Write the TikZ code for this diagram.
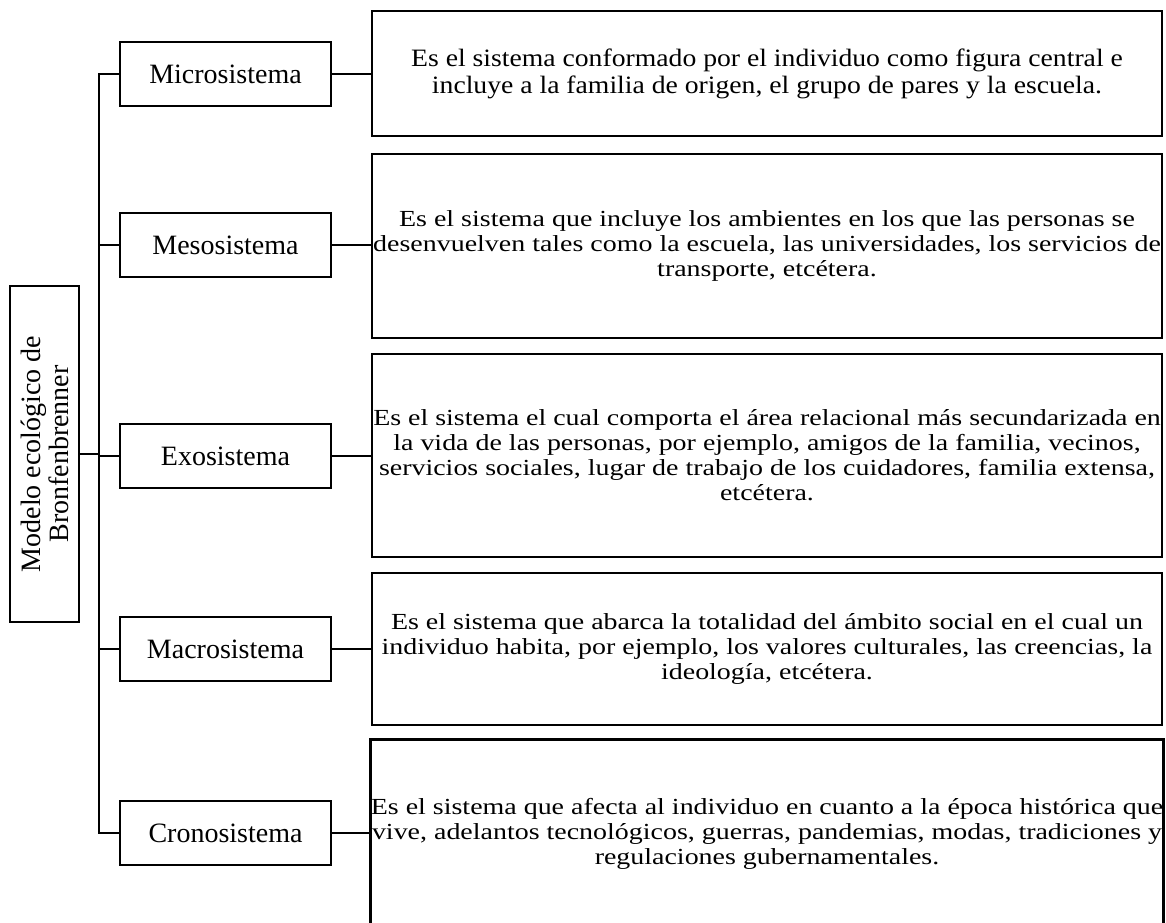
\documentclass[tikz,border=0pt]{standalone}
\usepackage{fontspec}
\setmainfont{Liberation Serif}
\newfontfamily\descfont[FakeStretch=1.215]{Liberation Serif}
\newfontfamily\descfontA[FakeStretch=1.107]{Liberation Serif}
\usepackage{tikz}
\usetikzlibrary{positioning,calc}

\begin{document}
\begin{tikzpicture}[x=0.5pt,y=-0.5pt]
\tikzstyle{S}=[draw,line width=1.4pt,inner sep=0pt,align=center]
\tikzstyle{M}=[S,minimum width=105.5pt,minimum height=32pt,font=\fontsize{14}{16}\selectfont]
\tikzstyle{D}=[S,minimum width=395pt,font=\descfont\fontsize{11.5}{12.5}\selectfont]
\tikzstyle{L}=[line width=0.9pt]
\useasboundingbox (0,0) rectangle (1166,922);
\clip (0,0) rectangle (1166,922);
% left title box
\node[S,rotate=90,minimum width=168pt,minimum height=34.5pt,
font=\fontsize{14}{14}\selectfont](model) at (44.5,454)
{Modelo ecológico de\\Bronfenbrenner};
% systems
\node[M](micro) at (225.5,74){Microsistema};
\node[M](meso) at (225.5,245){Mesosistema};
\node[M](exo) at (225.5,456){Exosistema};
\node[M](macro) at (225.5,649){Macrosistema};
\node[M](crono) at (225.5,833){Cronosistema};
% descriptions
\node[D,minimum height=62.5pt,font=\descfontA\fontsize{12.5}{13.5}\selectfont](d1) at (767,73.5)
{Es el sistema conformado por el individuo como figura central e\\
incluye a la familia de origen, el grupo de pares y la escuela.};
\node[D,minimum height=92pt](d2) at (767,246)
{Es el sistema que incluye los ambientes en los que las personas se\\
desenvuelven tales como la escuela, las universidades, los servicios de\\
transporte, etcétera.};
\node[D,minimum height=101.5pt](d3) at (767,455.5)
{Es el sistema el cual comporta el área relacional más secundarizada en\\
la vida de las personas, por ejemplo, amigos de la familia, vecinos,\\
servicios sociales, lugar de trabajo de los cuidadores, familia extensa,\\
etcétera.};
\node[D,minimum height=76pt](d4) at (767,649)
{Es el sistema que abarca la totalidad del ámbito social en el cual un\\
individuo habita, por ejemplo, los valores culturales, las creencias, la\\
ideología, etcétera.};
\node[D,minimum height=94pt](d5) at (767,833.5)
{Es el sistema que afecta al individuo en cuanto a la época histórica que\\
vive, adelantos tecnológicos, guerras, pandemias, modas, tradiciones y\\
regulaciones gubernamentales.};
% connectors
\coordinate (trunk) at (99,0);
\draw[L](micro.west)--(micro.west-|trunk)--(crono.west-|trunk)--(crono.west);
\foreach \n in {meso,exo,macro}
\draw[L](\n.west)--(\n.west-|trunk);
\draw[L](model.south)--(model.south-|trunk);
\foreach \a/\b in {micro/d1,meso/d2,exo/d3,macro/d4,crono/d5}
\draw[L](\a.east)--(\a.east-|\b.west);
\end{tikzpicture}
\end{document}
